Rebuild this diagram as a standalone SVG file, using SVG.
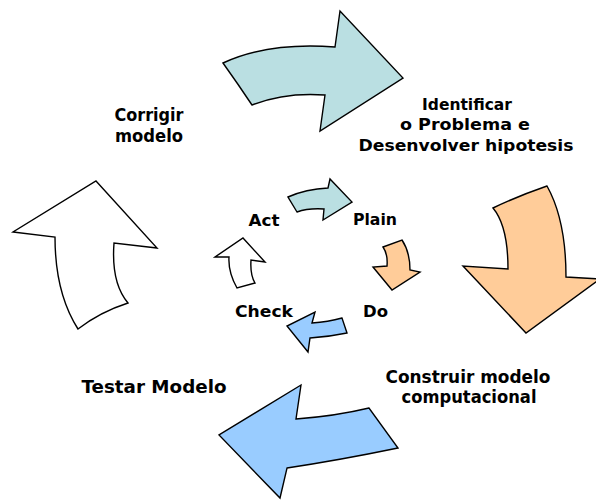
<svg xmlns="http://www.w3.org/2000/svg" width="596" height="500" viewBox="0 0 596 500">
  <style>
    .arrow { stroke: #000; stroke-width: 1.4; stroke-linejoin: miter; }
    .teal { fill: #BADFE2; }
    .orange { fill: #FFCC99; }
    .blue { fill: #99CCFF; }
    .white { fill: #FFFFFF; }
    .label { font-family: "DejaVu Sans", "Liberation Sans", Arial, sans-serif; font-weight: bold; fill: #000; text-anchor: middle; }
    .big { font-size: 17px; }
    .small { font-size: 16px; }
  </style>
  <rect width="596" height="500" fill="#FFFFFF"/>

  <!-- outer cycle arrows -->
  <g id="connectors">
    <g id="arrow-identify">
      <path class="arrow teal" d="M223,63 Q268,42 335,47 L340,11 L403,78 L320,131 L325,95 Q285,92 252,105 Q238,84 223,63 Z"/>
    </g>
    <g id="arrow-build">
      <path class="arrow orange" d="M493,208 Q518,196 547,186 Q566,220 566,277 L600,279 L526,333 L463,266 L508,269 Q508,226 493,208 Z"/>
    </g>
    <g id="arrow-test">
      <path class="arrow blue" d="M301,385 L296,419 Q336,416 369,408 L398,448 Q340,460 287,468 L280,498 L219,435 Z"/>
    </g>
    <g id="arrow-correct">
      <path class="arrow white" d="M96,181 L157,248 L114,243 Q111,283 128,303 Q100,312 78,329 Q55,293 55,237 L13,232 Z"/>
    </g>

    <!-- inner PDCA arrows -->
    <g id="arrow-plan">
      <path class="arrow teal" d="M288,197 Q306,189 328,188 L330,179 L352,202 L323,220 L324,209 Q308,208 297,212 Z"/>
    </g>
    <g id="arrow-do">
      <path class="arrow orange" d="M383,247 L402,240 Q410,252 410,270 L420,272 L392,290 L373,267 L387,266 Q388,254 383,247 Z"/>
    </g>
    <g id="arrow-check">
      <path class="arrow blue" d="M315,312 L312,323 Q328,322 342,318 L347,333 Q328,337 310,338 L308,352 L287,326 Z"/>
    </g>
    <g id="arrow-act">
      <path class="arrow white" d="M243,238 L265,262 L251,260 Q250,275 255,283 L237,288 Q228,272 229,257 L215,257 Z"/>
    </g>
  </g>

  <!-- outer labels -->
  <g id="node-identificar" style="font-size:16.5px">
    <text class="label" x="467" y="110" textLength="90" lengthAdjust="spacingAndGlyphs">Identificar</text>
    <text class="label" x="465" y="130" textLength="130" lengthAdjust="spacingAndGlyphs">o Problema e</text>
    <text class="label" x="466" y="150.5" textLength="215" lengthAdjust="spacingAndGlyphs">Desenvolver hipotesis</text>
  </g>
  <g id="node-corrigir">
    <text class="label big" x="149" y="121" textLength="69" lengthAdjust="spacingAndGlyphs">Corrigir</text>
    <text class="label big" x="149" y="142" textLength="68" lengthAdjust="spacingAndGlyphs">modelo</text>
  </g>
  <g id="node-construir" style="font-size:17.5px">
    <text class="label" x="468" y="383" textLength="165" lengthAdjust="spacingAndGlyphs">Construir modelo</text>
    <text class="label" x="469" y="403" textLength="135" lengthAdjust="spacingAndGlyphs">computacional</text>
  </g>
  <g id="node-testar">
    <text class="label big" x="154" y="393" textLength="145" lengthAdjust="spacingAndGlyphs">Testar Modelo</text>
  </g>

  <!-- inner labels -->
  <g id="node-act">
    <text class="label small" x="264" y="226" textLength="31" lengthAdjust="spacingAndGlyphs">Act</text>
  </g>
  <g id="node-plain">
    <text class="label small" x="375" y="225" textLength="44" lengthAdjust="spacingAndGlyphs">Plain</text>
  </g>
  <g id="node-check">
    <text class="label small" x="264" y="317" textLength="58" lengthAdjust="spacingAndGlyphs">Check</text>
  </g>
  <g id="node-do">
    <text class="label small" x="375.5" y="317" textLength="25" lengthAdjust="spacingAndGlyphs">Do</text>
  </g>
</svg>
